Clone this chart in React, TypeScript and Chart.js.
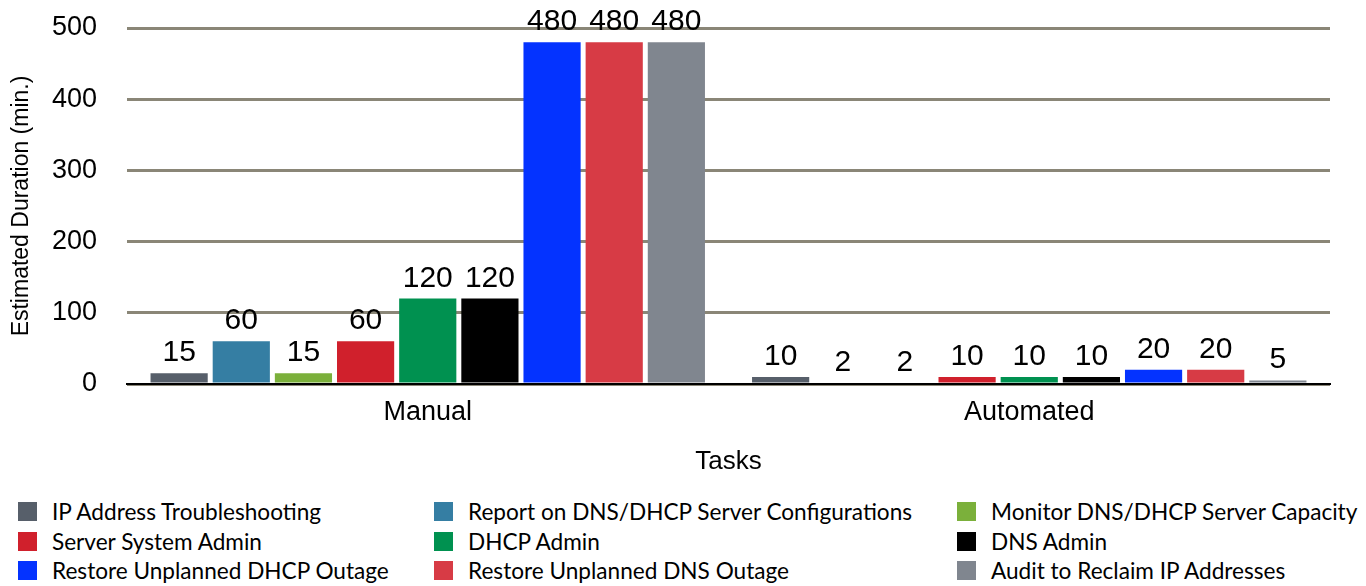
import React, { useEffect, useRef } from "react";
import { Chart, registerables } from "chart.js";

Chart.register(...registerables);

const categories = ["Manual", "Automated"];
const seriesNames = [
  "IP Address Troubleshooting",
  "Report on DNS/DHCP Server Configurations",
  "Monitor DNS/DHCP Server Capacity",
  "Server System Admin",
  "DHCP Admin",
  "DNS Admin",
  "Restore Unplanned DHCP Outage",
  "Restore Unplanned DNS Outage",
  "Audit to Reclaim IP Addresses",
];
const seriesColors = [
  "#575f6a",
  "#357ea3",
  "#7bb03b",
  "#d0202c",
  "#009150",
  "#000000",
  "#0433ff",
  "#d73b45",
  "#80868f",
];
const manualValues = [15, 60, 15, 60, 120, 120, 480, 480, 480];
const automatedValues = [10, 2, 2, 10, 10, 10, 20, 20, 5];
const yTicks = [0, 100, 200, 300, 400, 500];

const legendCols = [18, 434, 957];
const legendRows = [501, 531, 560];

const FONT = "'Liberation Sans', Arial, sans-serif";

const valueLabels = {
  id: "valueLabels",
  afterDatasetsDraw(chart: any) {
    const ctx = chart.ctx;
    ctx.save();
    ctx.font = "30px 'Liberation Sans', Arial, sans-serif";
    ctx.fillStyle = "#000";
    ctx.textAlign = "center";
    ctx.textBaseline = "alphabetic";
    chart.data.datasets.forEach((ds: any, i: number) => {
      const meta = chart.getDatasetMeta(i);
      meta.data.forEach((bar: any, j: number) => {
        ctx.fillText(String(ds.data[j]), bar.x, bar.y - 12);
      });
    });
    ctx.restore();
  },
};

export default function App() {
  const ref = useRef<HTMLCanvasElement>(null);
  useEffect(() => {
    if (!ref.current) return;
    const datasets = seriesNames.map((name, i) => ({
      label: name,
      data: [manualValues[i], automatedValues[i]],
      backgroundColor: seriesColors[i],
      borderWidth: 0,
      categoryPercentage: 0.93,
      barPercentage: 0.92,
    }));
    const chart = new Chart(ref.current, {
      type: "bar",
      data: { labels: categories, datasets },
      options: {
        responsive: false,
        animation: false,
        layout: { padding: { left: 0, right: 36, top: 28, bottom: 0 } },
        plugins: {
          legend: { display: false },
          tooltip: { enabled: false },
        },
        scales: {
          x: {
            grid: { display: false, drawTicks: false },
            border: { display: true, color: "#000", width: 2 },
            ticks: {
              color: "#000",
              padding: 12,
              font: { family: FONT, size: 27 },
            },
            title: {
              display: true,
              text: "Tasks",
              color: "#000",
              padding: { top: 2, bottom: 0 },
              font: { family: FONT, size: 26 },
            },
            afterFit: (scale: any) => {
              scale.height = 93;
              scale.paddingLeft = 0;
              scale.paddingRight = 0;
            },
          },
          y: {
            min: 0,
            max: 500,
            afterBuildTicks: (scale: any) => {
              scale.ticks = yTicks.map((v) => ({ value: v }));
            },
            grid: { color: "#8a8677", lineWidth: 3, drawTicks: false },
            border: { display: false },
            ticks: {
              color: "#000",
              padding: 30,
              font: { family: FONT, size: 27 },
            },
            title: {
              display: true,
              text: "Estimated Duration (min.)",
              color: "#000",
              padding: { top: 8, bottom: 0 },
              font: { family: FONT, size: 23 },
            },
            afterFit: (scale: any) => {
              scale.width = 127;
              scale.paddingTop = 0;
              scale.paddingBottom = 0;
            },
          },
        },
      },
      plugins: [valueLabels],
    });
    return () => chart.destroy();
  }, []);

  return (
    <div
      style={{
        position: "fixed",
        left: 0,
        top: 0,
        width: 1366,
        height: 586,
        background: "#fff",
        overflow: "hidden",
      }}
    >
      <canvas ref={ref} width={1366} height={477} style={{ display: "block" }} />
      {seriesNames.map((name, i) => (
        <div
          key={name}
          style={{
            position: "absolute",
            left: legendCols[i % 3],
            top: legendRows[Math.floor(i / 3)],
            height: 20,
            display: "flex",
            alignItems: "center",
            whiteSpace: "nowrap",
            fontFamily: "Lato, 'Noto Sans', sans-serif",
            fontSize: 22.6,
            color: "#000",
          }}
        >
          <span
            style={{
              display: "inline-block",
              width: 19,
              height: 19,
              background: seriesColors[i],
              marginRight: 15,
            }}
          />
          <span>{name}</span>
        </div>
      ))}
    </div>
  );
}
